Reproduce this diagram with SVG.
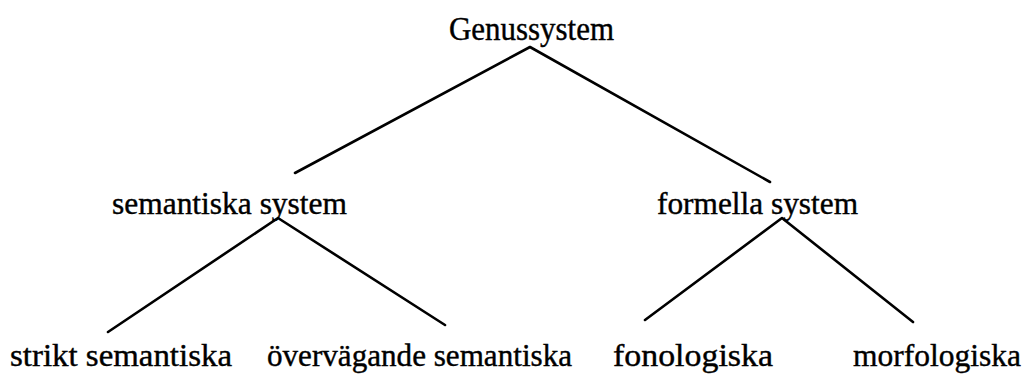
<svg xmlns="http://www.w3.org/2000/svg" width="1026" height="379" viewBox="0 0 1026 379">
  <style>
    .lbl { font-family: "Liberation Serif", "Times New Roman", serif; font-size: 32px; fill: #000; stroke: #000; stroke-width: 0.4; }
    .top { font-size: 34px; }
    .edge { stroke: #000; stroke-width: 2.6; fill: none; stroke-linecap: round; stroke-linejoin: round; }
  </style>
  <rect width="1026" height="379" fill="#fff"/>
  <g id="connectors">
    <polyline class="edge" points="295,173 530,47 770,182"/>
    <polyline class="edge" points="108,332 278,218 445,325"/>
    <polyline class="edge" points="645,320 782,218 913,322"/>
  </g>
  <g id="genussystem"><text class="lbl top" x="449" y="40" textLength="165" lengthAdjust="spacingAndGlyphs">Genussystem</text></g>
  <g id="semantiska-system"><text class="lbl" x="112" y="214" textLength="235" lengthAdjust="spacingAndGlyphs">semantiska system</text></g>
  <g id="formella-system"><text class="lbl" x="657" y="214" textLength="201" lengthAdjust="spacingAndGlyphs">formella system</text></g>
  <g id="strikt-semantiska"><text class="lbl" x="10" y="366" textLength="222" lengthAdjust="spacingAndGlyphs">strikt semantiska</text></g>
  <g id="overvagande-semantiska"><text class="lbl" x="267" y="366" textLength="305" lengthAdjust="spacingAndGlyphs">övervägande semantiska</text></g>
  <g id="fonologiska"><text class="lbl" x="613" y="366" textLength="160" lengthAdjust="spacingAndGlyphs">fonologiska</text></g>
  <g id="morfologiska"><text class="lbl" x="853" y="366" textLength="168" lengthAdjust="spacingAndGlyphs">morfologiska</text></g>
</svg>
